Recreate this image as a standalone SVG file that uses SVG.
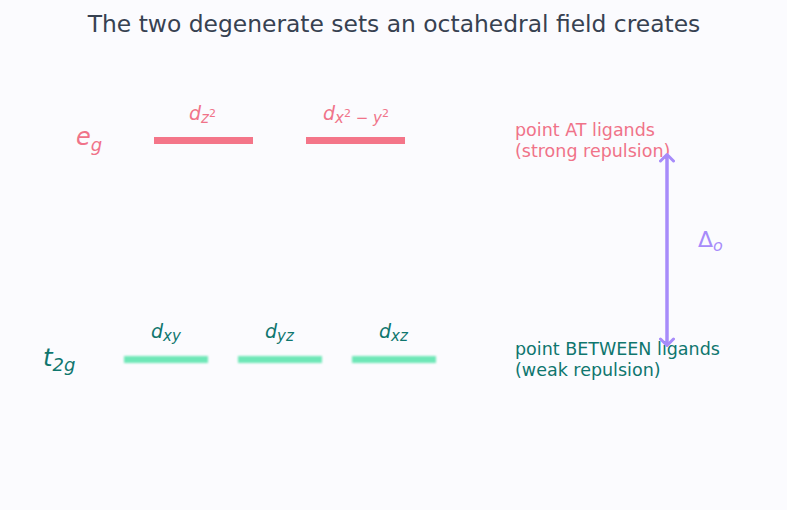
<svg xmlns="http://www.w3.org/2000/svg" width="787" height="510" viewBox="0 0 787 510">
<defs>
<style>
text{font-family:"DejaVu Sans",sans-serif}
.pink{fill:#f07389}
.teal{fill:#0f766e}
.eg{fill:#f47589}
.t2{fill:#6ee7b7}
.lab{font-size:19px;font-style:italic}
.sub{font-size:15px}
.sup{font-size:11px;font-style:normal}
.note{font-size:17.5px}
</style>
<filter id="soft" x="-10%" y="-100%" width="120%" height="300%"><feGaussianBlur stdDeviation="1"/></filter>
<marker id="ah" viewBox="0 0 16 16" refX="8" refY="8" markerWidth="16" markerHeight="16" markerUnits="userSpaceOnUse" orient="auto-start-reverse">
<path d="M2,1.5 L8.5,8 L2,14.5" fill="none" stroke="#a78bfa" stroke-width="3" stroke-linecap="round" stroke-linejoin="round"/>
</marker>
</defs>
<rect width="787" height="510" fill="#fbfbfe"/>
<text x="394" y="32" text-anchor="middle" font-size="23.4" fill="#374151">The two degenerate sets an octahedral field creates</text>

<g id="eg-label"><text x="76" y="145" font-size="24" font-style="italic" class="pink">e<tspan font-size="18" dy="6">g</tspan></text></g>
<g id="dz2"><rect x="154" y="137" width="99" height="7" class="eg"/><text x="189" y="120" class="lab pink">d<tspan class="sub" dy="3">z</tspan><tspan class="sup" dy="-6">2</tspan></text></g>
<g id="dx2y2"><rect x="306" y="137" width="99" height="7" class="eg"/><text x="323" y="120" class="lab pink">d<tspan class="sub" dy="3">x</tspan><tspan class="sup" dy="-6">2</tspan><tspan class="sub" dy="6"> − y</tspan><tspan class="sup" dy="-6">2</tspan></text></g>

<g id="t2g-label"><text x="43" y="366" font-size="24.5" font-style="italic" class="teal">t<tspan font-size="18" dy="5">2g</tspan></text></g>
<g id="dxy"><rect x="124" y="356" width="84" height="7" class="t2" filter="url(#soft)"/><text x="151" y="338" class="lab teal">d<tspan class="sub" dy="3">xy</tspan></text></g>
<g id="dyz"><rect x="238" y="356" width="84" height="7" class="t2" filter="url(#soft)"/><text x="265" y="338" class="lab teal">d<tspan class="sub" dy="3">yz</tspan></text></g>
<g id="dxz"><rect x="352" y="356" width="84" height="7" class="t2" filter="url(#soft)"/><text x="379" y="338" class="lab teal">d<tspan class="sub" dy="3">xz</tspan></text></g>

<g id="notes">
<text x="515" y="136" class="note pink">point AT ligands</text>
<text x="515" y="157" class="note pink">(strong repulsion)</text>
<text x="515" y="355" class="note teal">point BETWEEN ligands</text>
<text x="515" y="376" class="note teal">(weak repulsion)</text>
</g>

<g id="connectors">
<line x1="667" y1="155" x2="667" y2="345" stroke="#a78bfa" stroke-width="3.5" marker-start="url(#ah)" marker-end="url(#ah)"/>
</g>
<g id="delta"><text x="698" y="247" font-size="22" fill="#a78bfa">Δ<tspan font-size="16" font-style="italic" dy="4">o</tspan></text></g>
</svg>
